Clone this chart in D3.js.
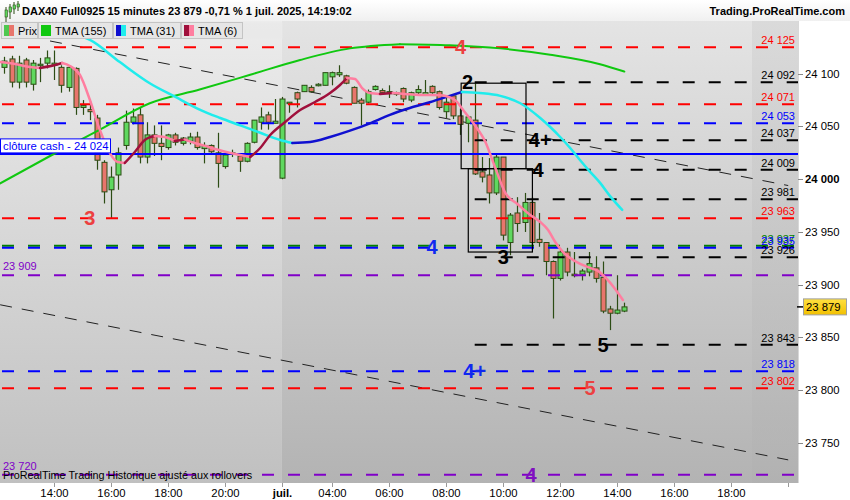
<!DOCTYPE html>
<html><head><meta charset="utf-8">
<script src="https://cdn.jsdelivr.net/npm/d3@7"></script>
<style>
body{margin:0;background:#fff;}
svg text{font-family:"Liberation Sans",Arial,sans-serif;}
</style>
</head><body><svg id="c" width="850" height="500"></svg>
<script>
// ---------------- DATA ----------------
// 15-minute bars, positioned on a trading-time slot index (slot 8 = 30 juin 14:00, slot 40 = 1 juil. open)
const candleOpen  = [24106,24114,24092,24113,24090,24108,24110,24108,24106,24087,24105,24068,24066,24058,24016,23990,24004,24032,24054,24061,24021,24042,24034,24030,24042,24034,24036,24040,24029,24032,24025,24012,24024,24022,24017,24035,24054,24061,24053,24001,24072,24082,24083,24087,24089,24089,24097,24099,24098,24087,24075,24073,24085,24084,24083,24081,24086,24075,24082,24080,24088,24083,24064,24079,24060,24053,24056,24007,24004,23987,24021,23940,23968,23959,23978,23943,23940,23922,23906,23931,23910,23910,23912,23916,23907,23877,23873,23875];
const candleHigh  = [24116,24117,24117,24115,24113,24115,24122,24122,24108,24108,24106,24075,24074,24061,24018,24012,24030,24065,24067,24068,24054,24051,24051,24043,24044,24040,24044,24045,24035,24033,24044,24025,24028,24023,24035,24056,24068,24064,24076,24078,24073,24083,24089,24089,24091,24101,24102,24108,24099,24088,24077,24085,24089,24086,24089,24083,24087,24083,24089,24094,24089,24084,24077,24080,24067,24060,24091,24021,24020,24023,24021,23968,23983,23987,23983,23968,23940,23923,23933,23935,23931,23915,23931,23927,23922,23880,23909,23883];
const candleLow   = [24100,24087,24086,24087,24084,24092,24105,24094,24082,24083,24061,24061,24056,24009,23977,23963,23990,24028,24052,24015,24015,24022,24018,24028,24032,24032,24033,24028,24015,24025,23992,24010,24021,24007,24016,24034,24047,24047,24053,24000,24063,24068,24083,24082,24088,24089,24089,24097,24090,24072,24051,24072,24084,24080,24077,24079,24073,24073,24080,24079,24081,24066,24058,24057,24042,24035,24004,23997,23977,23985,23942,23928,23950,23950,23933,23936,23909,23868,23904,23908,23907,23904,23908,23902,23873,23857,23872,23874];
const candleClose = [24112,24092,24110,24092,24110,24109,24115,24110,24089,24106,24068,24070,24064,24018,23988,24002,24025,24054,24059,24021,24042,24034,24031,24042,24035,24039,24040,24030,24032,24026,24015,24023,24025,24017,24034,24056,24059,24054,24055,24076,24073,24076,24089,24083,24090,24101,24101,24101,24091,24072,24072,24083,24088,24082,24082,24082,24076,24082,24085,24082,24082,24068,24073,24060,24052,24059,24005,24002,23987,24021,23947,23966,23958,23978,23940,23940,23922,23906,23931,23912,23909,23913,23920,23906,23875,23873,23876,23879];
const firstCandleSlot = 1;

// moving averages: [slot, value] samples
const tma155 = [[0.4,23996],[7.4,24022],[14.4,24047],[21.4,24072],[28.4,24085],[35.5,24099],[42.5,24113],[49.5,24124],[56.5,24128],[63.5,24127],[70.6,24124],[77.6,24118],[84.6,24109],[88,24102]];
const tma31 = [[9.6,24139],[13.0,24132],[17.2,24111],[21.4,24091],[25.0,24078],[28.4,24066],[31.3,24058],[34.1,24051],[36.9,24044],[39.7,24037.2],[41.4,24034.3],[43.9,24035.3],[46.7,24040],[49.5,24046],[52.3,24053],[55.1,24061],[57.9,24067.5],[60.7,24073],[63.5,24079],[65.2,24082.7],[67.7,24081.7],[70.6,24079],[73.4,24072],[76.2,24058],[77.6,24049.5],[79.0,24040],[80.4,24029.6],[81.8,24018],[83.2,24007],[84.6,23996.5],[86.0,23984],[87.7,23971]];
const tma6 = [[0.4,24111.1],[2.5,24109.2],[4.6,24106.3],[6.0,24105.4],[8.1,24108.2],[9.1,24110.1],[10.2,24107.3],[11.6,24098.8],[13.0,24075.1],[14.4,24046.6],[15.8,24024.8],[16.9,24016.3],[17.9,24015.4],[19.3,24025.8],[20.7,24037.2],[22.1,24041],[23.5,24040],[24.9,24036.2],[26.3,24037.7],[27.7,24034.3],[29.2,24031.5],[30.6,24028.6],[32.7,24024.8],[35.5,24021],[36.9,24029.6],[38.3,24041.9],[40.4,24054.2],[42.5,24065.6],[44.6,24073.2],[46.7,24081.7],[48.1,24089.3],[49.1,24096],[50.2,24095],[51.2,24086.4],[52.3,24081.7],[53.7,24080.8],[55.5,24081.7],[57.2,24080.8],[59.3,24079.8],[62.1,24079.6],[64.2,24075.1],[65.6,24063.7],[67.0,24051.4],[68.5,24035.3],[69.9,24010.6],[71.3,23987],[73.0,23976.5],[74.8,23966.1],[76.2,23959.5],[77.3,23951.9],[78.3,23940.5],[79.4,23931],[80.4,23925.3],[81.8,23919.7],[83.2,23915.9],[84.3,23913.1],[85.4,23906.4],[86.6,23896.9],[87.8,23885.5]];

// horizontal price levels
const redLevels    = [24125,24071,23963,23802];
const blueLevels   = [24053,23935,23818];
const greenLevels  = [23937];
const purpleLevels = [23909,23720];
const blackLevels  = [24092,24037,24009,23981,23926,23843];
const cashClose    = 24024;
const blackLevelStartSlot = 67;

// right strip labels (values shown)
const stripLabelValues = [24125,24092,24071,24053,24037,24009,23981,23963,23937,23935,23926,23843,23818,23802];
const leftLabelValues  = [23909,23720];

// level annotations (text, price, slot)
const annoText  = ["4","2","4+","4","3","4","3","5","4+","5","4"];
const annoValue = [24125,24092,24037,24009,23963,23936,23926,23843,23818,23802,23720];
const annoSlot  = [65,66,76.2,75.9,13,61,71,85,67,83.2,74.9];
const annoGroup = ["red","black","black","black","red","blue","black","black","blue","red","purple"];

// zone boxes: [slotStart, slotEnd, priceTop, priceBottom]
const boxes = [[65.1,74.2,24091,24010],[66.1,75.1,24010,23931]];

// trend lines (parallel channel): [slot, price] endpoints
const trendUpper = [[7.4,24131],[111,23994]];
const trendLower = [[0.4,23881],[111,23734]];

// axes
const yTicks = [23750,23800,23850,23900,23950,24000,24050,24100];
const xTickSlots  = [8,16,24,32,40,47,55,63,71,79,87,95,103,111];
const xTickLabels = ["14:00","16:00","18:00","20:00","juil.","04:00","06:00","08:00","10:00","12:00","14:00","16:00","18:00",""];
const dayBoundarySlot = 39.95;
const lastPrice = 23879;

// ---------------- DRAW ----------------
const svg = d3.select('#c');
const P = {l:0, r:798, t:21, b:483};
const x = d3.scaleLinear().domain([8,87]).range([54.3,617.2]);
const y = d3.scaleLinear().domain([23750,24100]).range([443,73.7]);
const fmt = v => { const s = String(Math.round(v)); return s.slice(0,s.length-3)+" "+s.slice(-3); };

const defs = svg.append('defs');
function vgrad(id, c1, c2){
  const g = defs.append('linearGradient').attr('id',id).attr('x1',0).attr('y1',0).attr('x2',0).attr('y2',1);
  g.append('stop').attr('offset','0%').attr('stop-color',c1);
  g.append('stop').attr('offset','100%').attr('stop-color',c2);
}
vgrad('bgPrev','#ececec','#c0c0c0');
vgrad('bgToday','#e4e4e4','#b3b3b3');
vgrad('strip','#d2d2d2','#b0b0b0');
vgrad('yel','#ffe040','#f2c000');
vgrad('hdr','#ffffff','#f0f0f0');
defs.append('clipPath').attr('id','clip').append('rect').attr('x',P.l).attr('y',P.t).attr('width',P.r-P.l).attr('height',P.b-P.t);

// header
svg.append('rect').attr('x',0).attr('y',0).attr('width',850).attr('height',P.t).attr('fill','url(#hdr)');
// backgrounds
const xb = x(dayBoundarySlot);
svg.append('rect').attr('x',P.l).attr('y',P.t).attr('width',xb-P.l).attr('height',P.b-P.t).attr('fill','url(#bgPrev)');
svg.append('rect').attr('x',xb).attr('y',P.t).attr('width',P.r-xb).attr('height',P.b-P.t).attr('fill','url(#bgToday)');
svg.append('rect').attr('x',752).attr('y',P.t).attr('width',P.r-752).attr('height',P.b-P.t).attr('fill','url(#strip)').attr('opacity',0.55);

const g = svg.append('g').attr('clip-path','url(#clip)');

// trend lines
[trendUpper, trendLower].forEach(t=>{
  g.append('line').attr('x1',x(t[0][0])).attr('y1',y(t[0][1])).attr('x2',x(t[1][0])).attr('y2',y(t[1][1]))
   .attr('stroke','#222').attr('stroke-width',1).attr('stroke-dasharray','12,10');
});

// candles
const cg = g.append('g');
candleOpen.forEach((o,i)=>{
  const s = firstCandleSlot + i, cx = Math.round(x(s))+0.5;
  const c = candleClose[i], up = c >= o;
  cg.append('line').attr('x1',cx).attr('x2',cx).attr('y1',y(candleHigh[i])).attr('y2',y(candleLow[i])).attr('stroke','#2c4c14').attr('stroke-width',1.2);
  const top = y(Math.max(o,c)), bot = y(Math.min(o,c));
  cg.append('rect').attr('x',cx-2.5).attr('y',top).attr('width',5).attr('height',Math.max(1.5,bot-top))
    .attr('fill', up ? '#5fd85f' : '#e8756c').attr('stroke','#2c4c14').attr('stroke-width',1);
});

// level lines
function hline(v, color, x0, solid){
  g.append('line').attr('x1',x0).attr('x2',P.r).attr('y1',y(v)).attr('y2',y(v))
   .attr('stroke',color).attr('stroke-width',2).attr('stroke-dasharray', solid?null:'12,14');
}
redLevels.forEach(v=>hline(v,'#ff0000',2));
purpleLevels.forEach(v=>hline(v,'#8000c8',2));
greenLevels.forEach(v=>hline(v,'#008000',2));
blueLevels.forEach(v=>hline(v,'#0000ff',2));
blackLevels.forEach(v=>hline(v,'#000000',x(blackLevelStartSlot)));
hline(cashClose,'#0000ff',0,true);

// boxes
boxes.forEach(b=>{
  g.append('rect').attr('x',x(b[0])).attr('y',y(b[2])).attr('width',x(b[1])-x(b[0])).attr('height',y(b[3])-y(b[2]))
   .attr('fill','none').attr('stroke','#000').attr('stroke-width',1.2);
});

// moving averages
function maLine(pts, upColor, downColor, width){
  const line = d3.line().x(d=>x(d[0])).y(d=>y(d[1])).curve(d3.curveMonotoneX);
  let run=[pts[0]], runUp=null;
  const flush=(up)=>{ if(run.length>1) g.append('path').attr('d',line(run)).attr('fill','none').attr('stroke',up?upColor:downColor).attr('stroke-width',width).attr('stroke-linejoin','round').attr('stroke-linecap','round'); };
  for(let i=1;i<pts.length;i++){
    const up = pts[i][1] > pts[i-1][1];
    if(runUp===null || up===runUp){ run.push(pts[i]); runUp=up; }
    else { flush(runUp); run=[pts[i-1],pts[i]]; runUp=up; }
  }
  flush(runUp);
}
maLine(tma155,'#10c810','#10c810',2);
maLine(tma31,'#1010d0','#20ecec',2.5);
maLine(tma6,'#a0103c','#ff7ea0',2.5);

// annotations
const annoColor = {red:'#ec4040', black:'#000', blue:'#1028f0', purple:'#8010c0'};
annoText.forEach((t,i)=>{
  g.append('text').attr('x',x(annoSlot[i])).attr('y',y(annoValue[i])+7).attr('text-anchor','middle')
   .attr('font-size',20).attr('font-weight', 'bold').attr('fill',annoColor[annoGroup[i]]).text(t);
});

// right strip labels
const lvlColor = v => redLevels.includes(v)?'#ff0000': blueLevels.includes(v)?'#0000ff': greenLevels.includes(v)?'#008000':'#000';
stripLabelValues.forEach(v=>{
  svg.append('text').attr('x',795).attr('y',y(v)-3).attr('text-anchor','end').attr('font-size',11)
   .attr('fill',lvlColor(v)).text(fmt(v));
});
leftLabelValues.forEach(v=>{
  svg.append('text').attr('x',3).attr('y',y(v)-5).attr('font-size',11).attr('fill','#8000c8').text(fmt(v));
});

// cash close label
svg.append('rect').attr('x',0.5).attr('y',y(cashClose)-15).attr('width',110).attr('height',14).attr('fill','#fff').attr('stroke','#0000ff').attr('stroke-width',1);
svg.append('text').attr('x',3).attr('y',y(cashClose)-4).attr('font-size',11.3).attr('fill','#0000ff').text('clôture cash -  '+fmt(cashClose));

// footer text
svg.append('text').attr('x',3).attr('y',479).attr('font-size',10.8).attr('fill','#000').text('ProRealTime Trading  Historique ajusté aux rollovers');

// right axis
svg.append('rect').attr('x',P.r).attr('y',P.t).attr('width',850-P.r).attr('height',P.b-P.t).attr('fill','#fff');
svg.append('line').attr('x1',P.r+0.5).attr('x2',P.r+0.5).attr('y1',P.t).attr('y2',P.b).attr('stroke','#d8d8d8');
yTicks.forEach(v=>{
  svg.append('line').attr('x1',P.r).attr('x2',P.r+5).attr('y1',Math.round(y(v))+0.5).attr('y2',Math.round(y(v))+0.5).attr('stroke','#888');
  svg.append('text').attr('x',805).attr('y',y(v)+4).attr('font-size',11.3).attr('font-weight', v%1000===0?'bold':'normal').attr('fill','#000').text(fmt(v));
});
// last price
svg.append('line').attr('x1',P.r-1).attr('x2',P.r+5).attr('y1',y(lastPrice)).attr('y2',y(lastPrice)).attr('stroke','#000').attr('stroke-width',1.5);
svg.append('rect').attr('x',803.5).attr('y',y(lastPrice)-8).attr('width',43).attr('height',16).attr('fill','url(#yel)').attr('stroke','#a0a0a0');
svg.append('text').attr('x',806).attr('y',y(lastPrice)+4).attr('font-size',11.3).attr('fill','#000').text(fmt(lastPrice));

// x axis
svg.append('rect').attr('x',0).attr('y',P.b).attr('width',850).attr('height',500-P.b).attr('fill','#fff');
xTickSlots.forEach((s,i)=>{
  const tx = Math.round(x(s))+0.5;
  svg.append('line').attr('x1',tx).attr('x2',tx).attr('y1',P.b).attr('y2',P.b+4).attr('stroke','#999');
  svg.append('text').attr('x',tx).attr('y',497).attr('text-anchor','middle').attr('font-size',11.3)
    .attr('font-weight', xTickLabels[i]==='juil.'?'bold':'normal').attr('fill','#000').text(xTickLabels[i]);
});

// header title
const ic = svg.append('g');
[[5,9,14,7],[9,6,13,5],[13,4,10,4],[17,3,8,3]].forEach(d=>{
  ic.append('line').attr('x1',d[0]+1).attr('x2',d[0]+1).attr('y1',d[1]-2).attr('y2',d[1]+d[2]).attr('stroke','#2c4c14');
  ic.append('rect').attr('x',d[0]).attr('y',d[1]+1).attr('width',2.5).attr('height',d[3]).attr('fill','#5fd85f').attr('stroke','#2c4c14').attr('stroke-width',0.6);
});
svg.append('text').attr('x',22).attr('y',15).attr('font-size',11).attr('font-weight','bold').attr('fill','#000')
  .text('DAX40 Full0925 15 minutes 23 879 -0,71 % 1 juil. 2025, 14:19:02');
svg.append('text').attr('x',845).attr('y',15).attr('text-anchor','end').attr('font-size',11).attr('font-weight','bold').attr('fill','#000')
  .text('Trading.ProRealTime.com');

// legend tabs
const tabs = [
  {x0:1,x1:37,label:'Prix',c1:'#4fc84f',c2:'#e8756c'},
  {x0:38,x1:112,label:'TMA (155)',c1:'#10c810',c2:'#10c810'},
  {x0:113,x1:180,label:'TMA (31)',c1:'#1010d0',c2:'#20ecec'},
  {x0:181,x1:242,label:'TMA (6)',c1:'#a0103c',c2:'#ff7ea0'}
];
tabs.forEach(t=>{
  svg.append('rect').attr('x',t.x0+0.5).attr('y',22.5).attr('width',t.x1-t.x0).attr('height',16).attr('fill','#e6e6e6').attr('stroke','#c4c4c4');
  svg.append('rect').attr('x',t.x0+3).attr('y',25).attr('width',5).attr('height',11).attr('fill',t.c1);
  svg.append('rect').attr('x',t.x0+8).attr('y',25).attr('width',5).attr('height',11).attr('fill',t.c2);
  svg.append('text').attr('x',t.x0+17).attr('y',35).attr('font-size',11).attr('fill','#000').text(t.label);
});
svg.append('rect').attr('x',243).attr('y',22.5).attr('width',40).attr('height',16).attr('fill','#e8e8e8').attr('opacity',0.5);
</script>
</body></html>
